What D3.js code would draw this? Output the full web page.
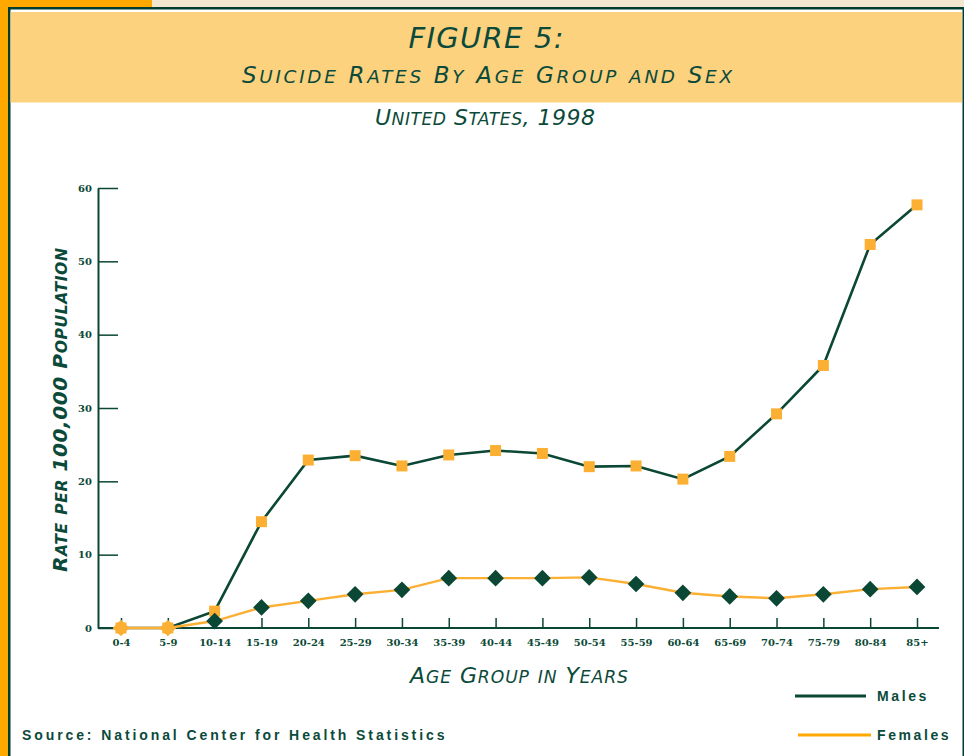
<!DOCTYPE html>
<html>
<head>
<meta charset="utf-8">
<script src="https://cdn.jsdelivr.net/npm/d3@7.9.0/dist/d3.min.js"></script>
<style>
  body { margin: 0; background: #fff; }
  svg { display: block; }
  .tick text { font-family: "DejaVu Serif", serif; font-weight: bold; font-size: 10px; fill: #0b4a36; }
</style>
</head>
<body>
<svg id="chart" width="964" height="756"></svg>
<script>
// Chart data
const ageGroups = ["0-4", "5-9", "10-14", "15-19", "20-24", "25-29", "30-34", "35-39", "40-44",
  "45-49", "50-54", "55-59", "60-64", "65-69", "70-74", "75-79", "80-84", "85+"];
const maleRates = [0, 0, 2.3, 14.5, 22.9, 23.5, 22.1, 23.6, 24.2, 23.8, 22.0, 22.1, 20.3, 23.4, 29.2, 35.8, 52.3, 57.7];
const femaleRates = [0, 0, 0.95, 2.8, 3.7, 4.6, 5.2, 6.8, 6.8, 6.8, 6.9, 6.0, 4.8, 4.3, 4.05, 4.6, 5.3, 5.6];
const yTicks = [0, 10, 20, 30, 40, 50, 60];

const green = "#0b4735";
const orange = "#fbb034";
const textGreen = "#0b4a3a";

const svg = d3.select("#chart");

// Frame and title band
svg.append("rect").attr("x", 0).attr("y", 0).attr("width", 964).attr("height", 756).attr("fill", "#fff");
svg.append("rect").attr("x", 152).attr("y", 0).attr("width", 812).attr("height", 7).attr("fill", "#f3e6cf");
svg.append("rect").attr("x", 0).attr("y", 0).attr("width", 152).attr("height", 7).attr("fill", "#ffa800");
svg.append("rect").attr("x", 0).attr("y", 0).attr("width", 8).attr("height", 756).attr("fill", "#ffa800");
svg.append("rect").attr("x", 8).attr("y", 7).attr("width", 956).attr("height", 2.5).attr("fill", "#003d2e");
svg.append("rect").attr("x", 8).attr("y", 7).attr("width", 2.5).attr("height", 749).attr("fill", "#003d2e");
svg.append("rect").attr("x", 962.5).attr("y", 7).attr("width", 1.5).attr("height", 749).attr("fill", "#003d2e");
svg.append("rect").attr("x", 10.5).attr("y", 12).attr("width", 951.5).attr("height", 90.5).attr("fill", "#fdd27f");

// Small caps built by hand: capitals at full size, lower case shown as smaller capitals
const titleFont = "'DejaVu Sans', sans-serif";
function smallCaps(sel, label, size, ratio, len) {
  const runs = [];
  for (const ch of label) {
    const low = ch !== ch.toUpperCase();
    const last = runs[runs.length - 1];
    if (last && last.low === low) last.s += ch;
    else runs.push({ low, s: ch });
  }
  runs.forEach(r => {
    sel.append("tspan").attr("font-size", r.low ? size * ratio : size).text(r.s.toUpperCase());
  });
  const natural = sel.node().getComputedTextLength();
  if (Math.abs(natural - len) > 2) sel.attr("textLength", len).attr("lengthAdjust", "spacing");
  return sel;
}
function titleText(x0, y0) {
  return svg.append("text").attr("x", x0).attr("y", y0).attr("text-anchor", "middle")
    .attr("font-family", titleFont).attr("font-style", "italic").attr("fill", textGreen);
}

titleText(486, 48).attr("font-size", 29).attr("textLength", 155).attr("lengthAdjust", "spacing")
  .text("FIGURE 5:");
smallCaps(titleText(487, 83), "Suicide Rates By Age Group and Sex", 23, 0.8, 490);
smallCaps(titleText(485, 125), "United States, 1998", 22, 0.78, 220);

// Scales
const x = d3.scalePoint().domain(ageGroups).range([121, 917]);
const y = d3.scaleLinear().domain([0, 60]).range([628, 188]);
const axisLeftX = 98, axisRightX = 939;

// Y axis (ticks pointing inward)
const yAxis = svg.append("g").attr("transform", `translate(${axisLeftX},0)`)
  .call(d3.axisLeft(y).tickValues(yTicks).tickSizeInner(-20).tickSizeOuter(0).tickPadding(6));
yAxis.select(".domain").attr("stroke", green).attr("stroke-width", 2);
yAxis.selectAll(".tick line").attr("stroke", green).attr("stroke-width", 1.5);

// X axis (ticks pointing up)
const xAxis = svg.append("g").attr("transform", `translate(0,${y(0)})`)
  .call(d3.axisBottom(x).tickSizeInner(-10).tickSizeOuter(0).tickPadding(11));
xAxis.select(".domain").remove();
xAxis.selectAll(".tick line").attr("stroke", green).attr("stroke-width", 1.5);
xAxis.append("line").attr("x1", axisLeftX).attr("x2", axisRightX).attr("y1", 0).attr("y2", 0)
  .attr("stroke", green).attr("stroke-width", 2);

// Axis titles
const yTitle = svg.append("text").attr("transform", `translate(67,410) rotate(-90)`)
  .attr("text-anchor", "middle").attr("font-family", titleFont)
  .attr("font-weight", "bold").attr("font-style", "italic").attr("fill", textGreen);
smallCaps(yTitle, "Rate per 100,000 Population", 20, 0.78, 324);
smallCaps(titleText(519, 683), "Age Group in Years", 22, 0.78, 218);

// Lines
const line = d3.line().x((d, i) => x(ageGroups[i])).y(d => y(d));
svg.append("path").datum(maleRates).attr("d", line).attr("fill", "none")
  .attr("stroke", green).attr("stroke-width", 2.6);
svg.append("path").datum(femaleRates).attr("d", line).attr("fill", "none")
  .attr("stroke", orange).attr("stroke-width", 2.4);

// Markers: males = orange squares, females = green diamonds
const sq = 11;
svg.append("g").selectAll("rect").data(maleRates).join("rect")
  .attr("x", (d, i) => x(ageGroups[i]) - sq / 2)
  .attr("y", d => y(d) - sq / 2)
  .attr("width", sq).attr("height", sq)
  .attr("fill", orange);

const diamond = d3.symbol().type(d3.symbolSquare).size(140);
svg.append("g").selectAll("path").data(femaleRates).join("path")
  .attr("d", diamond)
  .attr("transform", (d, i) => `translate(${x(ageGroups[i])},${y(d)}) rotate(45)`)
  .attr("fill", d => d === 0 ? orange : green);

// Legend
const legendFont = "'Liberation Sans', Arial, sans-serif";
svg.append("line").attr("x1", 795).attr("x2", 866).attr("y1", 696).attr("y2", 696)
  .attr("stroke", green).attr("stroke-width", 3);
svg.append("text").attr("x", 877).attr("y", 701).attr("font-family", legendFont)
  .attr("font-size", 14).attr("font-weight", "bold").attr("letter-spacing", 2.6)
  .attr("fill", textGreen).text("Males");
svg.append("line").attr("x1", 798).attr("x2", 871).attr("y1", 735).attr("y2", 735)
  .attr("stroke", "#ffa800").attr("stroke-width", 3);
svg.append("text").attr("x", 877).attr("y", 740).attr("font-family", legendFont)
  .attr("font-size", 14).attr("font-weight", "bold").attr("letter-spacing", 2.6)
  .attr("fill", textGreen).text("Females");

// Source
svg.append("text").attr("x", 22).attr("y", 740).attr("font-family", legendFont)
  .attr("font-size", 14).attr("font-weight", "bold").attr("letter-spacing", 2.9)
  .attr("fill", textGreen).text("Source: National Center for Health Statistics");
</script>
</body>
</html>
